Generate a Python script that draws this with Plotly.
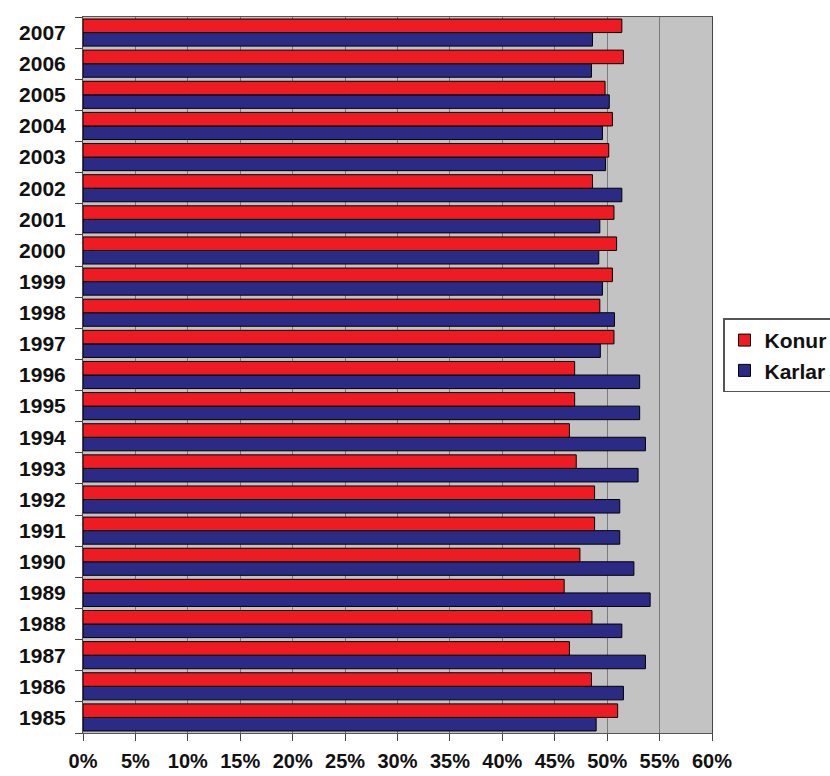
import plotly.graph_objects as go

years = [str(y) for y in range(1985, 2008)]
konur = [51.0, 48.5, 46.4, 48.55, 45.9, 47.4, 48.8, 48.8, 47.05, 46.4, 46.9, 46.9,
         50.65, 49.3, 50.5, 50.9, 50.65, 48.6, 50.15, 50.5, 49.8, 51.55, 51.4]
karlar = [48.95, 51.55, 53.65, 51.4, 54.1, 52.55, 51.2, 51.2, 52.95, 53.65, 53.1, 53.1,
          49.35, 50.7, 49.55, 49.2, 49.3, 51.4, 49.85, 49.55, 50.2, 48.5, 48.6]
x_ticks = list(range(0, 65, 5))
x_ticklabels = [f"{v}%" for v in x_ticks]

FONT = "Arial, Liberation Sans, sans-serif"

fig = go.Figure()
fig.add_trace(go.Bar(
    y=years, x=karlar, name="Karlar", orientation="h",
    marker=dict(color="#2b2a85", line=dict(color="#000000", width=1)),
    legendrank=2,
))
fig.add_trace(go.Bar(
    y=years, x=konur, name="Konur", orientation="h",
    marker=dict(color="#ee1c22", line=dict(color="#000000", width=1)),
    legendrank=1,
))

fig.update_layout(
    width=830, height=776,
    margin=dict(l=83, r=118, t=17, b=43, autoexpand=False),
    paper_bgcolor="white",
    plot_bgcolor="#c3c3c3",
    barmode="group",
    bargap=0.13,
    bargroupgap=0,
    font=dict(family=FONT, size=20, color="#111111", weight="bold"),
    legend=dict(
        x=1.0175, y=0.579, xanchor="left", yanchor="top",
        bgcolor="white", bordercolor="#555555", borderwidth=1.5,
        font=dict(family=FONT, size=21, color="#111111", weight="bold"),
        itemwidth=30,
        tracegroupgap=0,
    ),
    showlegend=True,
)

fig.update_xaxes(
    range=[0, 60],
    tickvals=x_ticks, ticktext=x_ticklabels,
    showgrid=True, gridcolor="#7a7a7a", gridwidth=1,
    ticks="outside", ticklen=7, tickcolor="#444444",
    ticklabelstandoff=3,
    showline=True, linecolor="#555555", linewidth=1, mirror=True,
    zeroline=False,
    tickfont=dict(family=FONT, size=20, color="#111111", weight="bold"),
)
fig.update_yaxes(
    type="category",
    categoryorder="array", categoryarray=years,
    showgrid=False,
    ticks="outside", ticklen=7, tickcolor="#444444",
    tickson="boundaries",
    ticklabelstandoff=12,
    showline=True, linecolor="#444444", linewidth=1, mirror=True,
    tickfont=dict(family=FONT, size=21, color="#111111", weight="bold"),
)

fig.write_html("out.html", config={"displayModeBar": False},
               post_script="document.body.style.margin='0';")
